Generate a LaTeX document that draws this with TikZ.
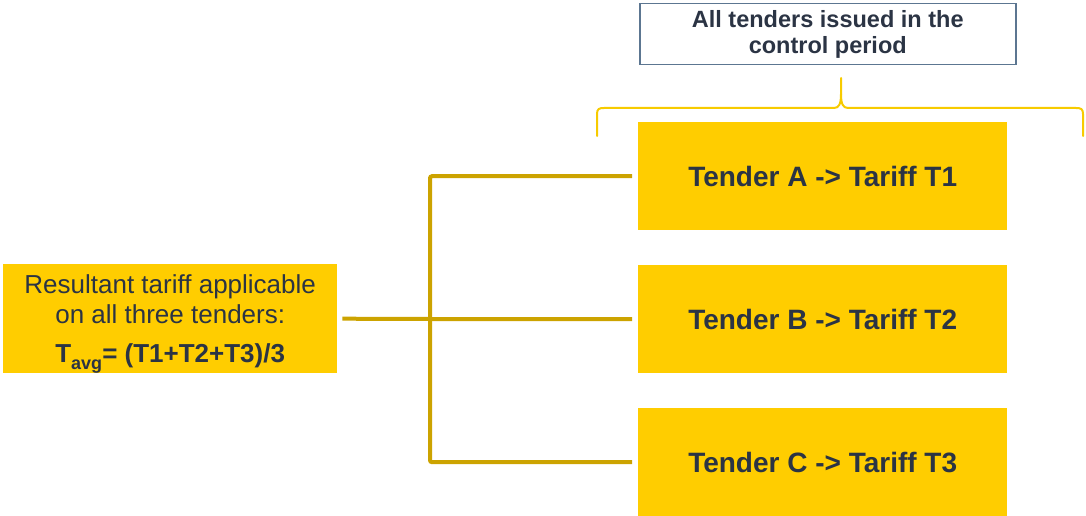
\documentclass[tikz,border=0pt]{standalone}
\usepackage{fontspec}
\setmainfont{Liberation Sans}
\definecolor{tyellow}{HTML}{FFCD00}
\definecolor{tgold}{HTML}{CCA300}
\definecolor{tbrace}{HTML}{F7CB00}
\definecolor{tframe}{HTML}{5C7691}
\definecolor{ttext}{HTML}{2B3444}
\newcommand{\lowsub}[1]{\raisebox{-7pt}{\fontsize{18}{20}\selectfont #1}}
\begin{document}
\begin{tikzpicture}[x=1pt,y=-1pt,
  tenderbox/.style={fill=tyellow, draw=none, minimum width=369pt, minimum height=108pt,
    anchor=north west, inner sep=0pt, text=ttext, font=\fontsize{28}{32}\selectfont\bfseries},
  resultbox/.style={fill=tyellow, draw=none, minimum width=334pt, minimum height=109pt,
    anchor=north west, inner sep=0pt, text=ttext, align=center,
    font=\fontsize{26}{30}\selectfont},
  scopebox/.style={draw=tframe, line width=1.5pt, fill=white, minimum width=376pt, minimum height=61pt,
    anchor=north west, inner sep=0pt, text=ttext, align=center,
    font=\fontsize{23.5}{25.5}\selectfont\bfseries},
  link/.style={draw=tgold, line width=4pt, rounded corners=2pt},
  bracket/.style={draw=tbrace, line width=2pt, line cap=round, line join=round}]
\useasboundingbox (0,0) rectangle (1086,516);

\node[scopebox] (scope) at (639,3) {All tenders issued in the\\control period};

\node[tenderbox] (ta) at (638,122) {Tender A -> Tariff T1};
\node[tenderbox] (tb) at (638,265) {Tender B -> Tariff T2};
\node[tenderbox] (tc) at (638,408) {Tender C -> Tariff T3};

\node[resultbox] (res) at (3,264) {\rule{0pt}{29pt}Resultant tariff applicable\\on all three tenders:\\[9pt]
  \bfseries T\lowsub{avg}= (T1+T2+T3)/3};

% curly bracket grouping the tenders under the scope box
\coordinate (bl) at (597,136);
\coordinate (br) at (1083,136);
\coordinate (btip) at (841,78);
\draw[bracket] (bl) -- (597,114) .. controls (597,109) and (599,108) .. (604,108)
  -- (834,108) .. controls (839,108) and (841,104) .. (841,94) -- (btip);
\draw[bracket] (br) -- (1083,114) .. controls (1083,109) and (1081,108) .. (1076,108)
  -- (848,108) .. controls (843,108) and (841,104) .. (841,94);

% fork connectors from the result box to each tender
\coordinate (fork) at (430,319);
\coordinate (ea) at ([xshift=-6pt]ta.west);
\coordinate (eb) at ([xshift=-6pt]tb.west);
\coordinate (ec) at ([xshift=-6pt]tc.west);
\coordinate (es) at ([xshift=5pt]res.east);
\draw[link] (ea) -- (fork |- ea) -- (fork |- ec) -- (ec);
\draw[link] (es) -- (fork) -- (eb);
\end{tikzpicture}
\end{document}
